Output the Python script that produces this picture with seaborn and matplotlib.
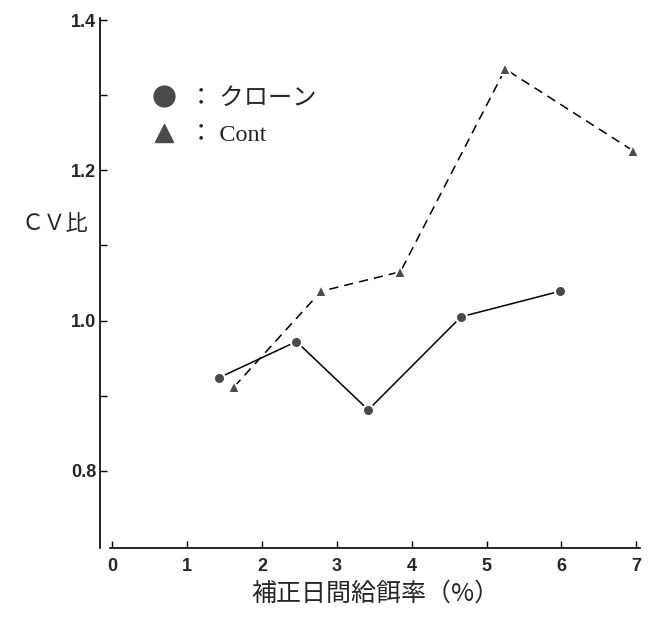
import matplotlib
matplotlib.use("Agg")
import matplotlib.pyplot as plt
import seaborn as sns
from matplotlib.lines import Line2D

clone_x = [1.43, 2.46, 3.42, 4.66, 5.98]
clone_y = [0.924, 0.972, 0.881, 1.005, 1.039]
cont_x = [1.63, 2.79, 3.85, 5.25, 6.96]
cont_y = [0.912, 1.039, 1.065, 1.335, 1.226]
xticks = [0, 1, 2, 3, 4, 5, 6, 7]
yticks_major = [0.8, 1.0, 1.2, 1.4]
yticks_minor = [0.9, 1.1, 1.3]
legend_labels = ["： クローン", "： Cont"]
xlabel = "補正日間給餌率（%）"
ylabel = "ＣＶ比"

sns.set_style("white")
plt.rcParams['font.family'] = ['Liberation Serif', 'Noto Sans CJK JP', 'DejaVu Sans']

fig = plt.figure(figsize=(6.48, 6.19), dpi=100)
ax = fig.add_axes([110/648, 71/619, 530/648, 530/619])

for s in ['top', 'right']:
    ax.spines[s].set_visible(False)
for s in ['left', 'bottom']:
    ax.spines[s].set_color('black')
    ax.spines[s].set_linewidth(1.2)
ax.spines['left'].set_position(('outward', 7))

sns.lineplot(x=clone_x, y=clone_y, ax=ax, color='black', lw=1.1,
             marker='o', markersize=8, markerfacecolor='#4a4a4a',
             markeredgecolor='white', markeredgewidth=1.5, sort=False)
sns.lineplot(x=cont_x, y=cont_y, ax=ax, color='black', lw=1.1,
             marker='^', markersize=8, markerfacecolor='#4a4a4a',
             markeredgecolor='white', markeredgewidth=1.5, sort=False,
             linestyle=(0, (6, 4)))

ax.set_xlim(-0.03, 7.05)
ax.set_ylim(0.697, 1.403)
ax.set_xticks(xticks)
ax.set_yticks(yticks_major)
ax.set_yticks(yticks_minor, minor=True)
ax.set_xticklabels([str(t) for t in xticks], fontweight='bold',
                   family=['Liberation Sans'], fontsize=13)
ax.set_yticklabels([f"{t:.1f}" for t in yticks_major], fontweight='bold',
                   family=['Liberation Sans'], fontsize=13)
ax.tick_params(axis='both', which='both', direction='in', length=5, width=1,
               color='black', bottom=True, left=True, pad=3)
ax.tick_params(axis='x', pad=7)

ax.set_xlabel(xlabel, fontsize=18, family=['Noto Sans CJK JP'], labelpad=4)
ax.set_ylabel(ylabel, fontsize=16, rotation=0, family=['Noto Sans CJK JP'],
              va='center', ha='center')
ax.yaxis.set_label_coords(-0.104, 0.612)

handles = [
    Line2D([], [], ls='none', marker='o', markersize=15, markerfacecolor='#4a4a4a',
           markeredgecolor='#4a4a4a'),
    Line2D([], [], ls='none', marker='^', markersize=13, markerfacecolor='#4a4a4a',
           markeredgecolor='#4a4a4a'),
]
leg = ax.legend(handles, legend_labels, loc='upper left',
                bbox_to_anchor=(128/648, 1 - 66/619), bbox_transform=fig.transFigure,
                frameon=False, handlelength=1.2, handletextpad=0.4,
                labelspacing=0.6, prop={'family': ['Liberation Serif', 'Noto Sans CJK JP'], 'size': 17.5})

fig.savefig("out.png", dpi=100)
